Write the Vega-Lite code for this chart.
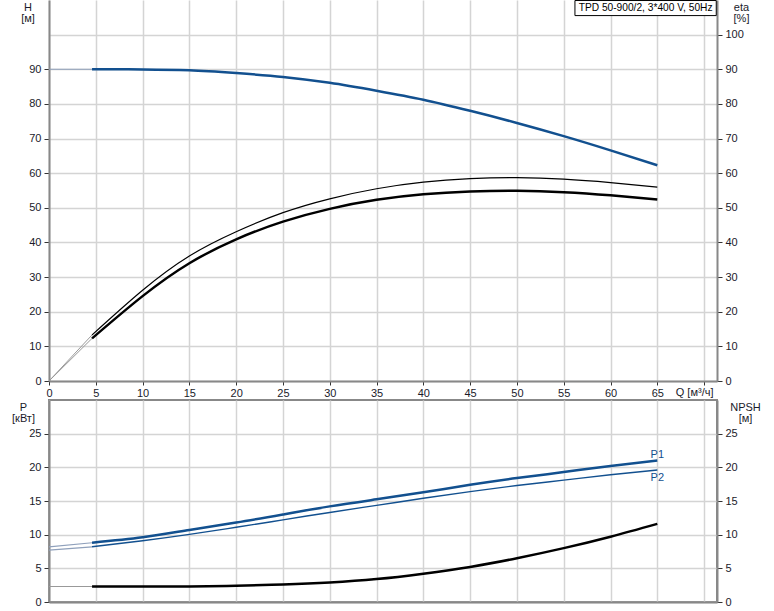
{
  "$schema": "https://vega.github.io/schema/vega-lite/v6.json",
  "padding": {"left": 10, "top": 0, "right": 10, "bottom": 0},
  "background": "white",
  "config": {
    "view": {"stroke": null},
    "font": "Liberation Sans",
    "axis": {
      "labelFont": "Liberation Sans", "labelFontSize": 11, "labelColor": "#1a1a2a",
      "titleFont": "Liberation Sans", "titleFontSize": 11, "titleFontWeight": "normal", "titleColor": "#1a1a2a",
      "domainColor": "#888888", "domainWidth": 2, "tickColor": "#333333", "tickSize": 5, "labelPadding": 3,
      "gridColor": "#d4d4d4", "gridWidth": 1.5
    }
  },
  "datasets": {
    "top": [
      {"s": "H0", "Q": 0, "v": 90}, {"s": "H0", "Q": 4.6, "v": 90},
      {"s": "H", "Q": 4.6, "v": 90}, {"s": "H", "Q": 10, "v": 89.95}, {"s": "H", "Q": 15, "v": 89.7}, {"s": "H", "Q": 20, "v": 88.9},
      {"s": "H", "Q": 25, "v": 87.8}, {"s": "H", "Q": 30, "v": 86.1}, {"s": "H", "Q": 35, "v": 83.8}, {"s": "H", "Q": 40, "v": 81.2},
      {"s": "H", "Q": 45, "v": 78.0}, {"s": "H", "Q": 50, "v": 74.5}, {"s": "H", "Q": 55, "v": 70.7}, {"s": "H", "Q": 60, "v": 66.6},
      {"s": "H", "Q": 65, "v": 62.3},
      {"s": "Eu0", "Q": 0, "v": 0}, {"s": "Eu0", "Q": 4.6, "v": 13.3},
      {"s": "Eu", "Q": 4.6, "v": 13.3}, {"s": "Eu", "Q": 10, "v": 26.2}, {"s": "Eu", "Q": 15, "v": 36.1},
      {"s": "Eu", "Q": 20, "v": 43.1}, {"s": "Eu", "Q": 25, "v": 48.6}, {"s": "Eu", "Q": 30, "v": 52.6}, {"s": "Eu", "Q": 35, "v": 55.5},
      {"s": "Eu", "Q": 40, "v": 57.4}, {"s": "Eu", "Q": 45, "v": 58.4}, {"s": "Eu", "Q": 50, "v": 58.7}, {"s": "Eu", "Q": 55, "v": 58.3},
      {"s": "Eu", "Q": 60, "v": 57.3}, {"s": "Eu", "Q": 65, "v": 56.0},
      {"s": "El0", "Q": 0, "v": 0}, {"s": "El0", "Q": 4.6, "v": 12.3},
      {"s": "El", "Q": 4.6, "v": 12.3}, {"s": "El", "Q": 10, "v": 24.5}, {"s": "El", "Q": 15, "v": 34.0},
      {"s": "El", "Q": 20, "v": 40.9}, {"s": "El", "Q": 25, "v": 46.0}, {"s": "El", "Q": 30, "v": 49.7}, {"s": "El", "Q": 35, "v": 52.3},
      {"s": "El", "Q": 40, "v": 53.9}, {"s": "El", "Q": 45, "v": 54.7}, {"s": "El", "Q": 50, "v": 54.9}, {"s": "El", "Q": 55, "v": 54.5},
      {"s": "El", "Q": 60, "v": 53.6}, {"s": "El", "Q": 65, "v": 52.4}
    ],
    "bottom": [
      {"s": "P1s", "Q": 0, "v": 8.2}, {"s": "P1s", "Q": 4.6, "v": 8.8},
      {"s": "P1", "Q": 4.6, "v": 8.8}, {"s": "P1", "Q": 10, "v": 9.6}, {"s": "P1", "Q": 15, "v": 10.7}, {"s": "P1", "Q": 20, "v": 11.8},
      {"s": "P1", "Q": 25, "v": 13.0}, {"s": "P1", "Q": 30, "v": 14.2}, {"s": "P1", "Q": 35, "v": 15.25}, {"s": "P1", "Q": 40, "v": 16.3},
      {"s": "P1", "Q": 45, "v": 17.4}, {"s": "P1", "Q": 50, "v": 18.4}, {"s": "P1", "Q": 55, "v": 19.3}, {"s": "P1", "Q": 60, "v": 20.2},
      {"s": "P1", "Q": 65, "v": 21.0},
      {"s": "P2s", "Q": 0, "v": 7.7}, {"s": "P2s", "Q": 4.6, "v": 8.2},
      {"s": "P2", "Q": 4.6, "v": 8.2}, {"s": "P2", "Q": 10, "v": 9.1}, {"s": "P2", "Q": 15, "v": 10.05}, {"s": "P2", "Q": 20, "v": 11.1},
      {"s": "P2", "Q": 25, "v": 12.2}, {"s": "P2", "Q": 30, "v": 13.3}, {"s": "P2", "Q": 35, "v": 14.35}, {"s": "P2", "Q": 40, "v": 15.4},
      {"s": "P2", "Q": 45, "v": 16.4}, {"s": "P2", "Q": 50, "v": 17.3}, {"s": "P2", "Q": 55, "v": 18.1}, {"s": "P2", "Q": 60, "v": 18.9},
      {"s": "P2", "Q": 65, "v": 19.6},
      {"s": "Ns", "Q": 0, "v": 2.3}, {"s": "Ns", "Q": 4.6, "v": 2.3},
      {"s": "N", "Q": 4.6, "v": 2.3}, {"s": "N", "Q": 10, "v": 2.3}, {"s": "N", "Q": 15, "v": 2.3}, {"s": "N", "Q": 20, "v": 2.4},
      {"s": "N", "Q": 25, "v": 2.6}, {"s": "N", "Q": 30, "v": 2.9}, {"s": "N", "Q": 35, "v": 3.4}, {"s": "N", "Q": 40, "v": 4.2},
      {"s": "N", "Q": 45, "v": 5.2}, {"s": "N", "Q": 50, "v": 6.5}, {"s": "N", "Q": 55, "v": 8.0}, {"s": "N", "Q": 60, "v": 9.7},
      {"s": "N", "Q": 65, "v": 11.6}
    ]
  },
  "bounds": "flush",
  "spacing": 19,
  "vconcat": [
    {
      "width": 668,
      "height": 381,
      "data": {"name": "top"},
      "encoding": {
        "x": {
          "field": "Q", "type": "quantitative",
          "scale": {"domain": [0, 71.38], "nice": false, "zero": false},
          "axis": {
            "values": [0, 5, 10, 15, 20, 25, 30, 35, 40, 45, 50, 55, 60, 65, 70],
            "labelExpr": "datum.value == 70 ? '' : datum.label",
            "grid": true, "tickSize": 4, "labelPadding": 2, "labelFlush": false, "labelOverlap": false,
            "title": "Q [м³/ч]", "titleX": 664, "titleY": 14, "titleAlign": "right", "titleBaseline": "alphabetic", "titleAnchor": null
          }
        }
      },
      "layer": [
        {
          "encoding": {
            "y": {
              "field": "v", "type": "quantitative",
              "scale": {"domain": [0, 110], "nice": false, "zero": false},
              "axis": {
                "values": [0, 10, 20, 30, 40, 50, 60, 70, 80, 90], "grid": false,
                "title": ["H", "[м]"], "titleAngle": 0, "titleAlign": "center", "titleBaseline": "top",
                "titleX": -21.5, "titleY": 1, "titleLineHeight": 11
              }
            }
          },
          "layer": [
            {"transform": [{"filter": "datum.s == 'H0'"}], "mark": {"type": "line", "color": "#8fa0bb", "strokeWidth": 1}},
            {"transform": [{"filter": "datum.s == 'H'"}], "mark": {"type": "line", "color": "#12508f", "strokeWidth": 2.5, "interpolate": "monotone"}},
            {
              "transform": [{"filter": "datum.s == 'H' && datum.Q == 65"}],
              "mark": {"type": "rect", "fill": "white", "stroke": "#000000", "strokeWidth": 1},
              "encoding": {
                "x": {"datum": 56.2, "type": "quantitative"}, "x2": {"datum": 71.3},
                "y": {"datum": 109.85, "type": "quantitative"}, "y2": {"datum": 105.5}
              }
            },
            {
              "transform": [{"filter": "datum.s == 'H' && datum.Q == 65"}],
              "mark": {"type": "text", "fontSize": 10.2, "font": "Liberation Sans", "align": "center", "baseline": "middle", "color": "#000000"},
              "encoding": {
                "x": {"datum": 63.75, "type": "quantitative"},
                "y": {"datum": 107.6, "type": "quantitative"},
                "text": {"value": "TPD 50-900/2, 3*400 V, 50Hz"}
              }
            }
          ]
        },
        {
          "encoding": {
            "y": {
              "field": "v", "type": "quantitative",
              "scale": {"domain": [0, 110], "nice": false, "zero": false},
              "axis": {
                "orient": "right",
                "values": [0, 10, 20, 30, 40, 50, 60, 70, 80, 90, 100], "grid": true,
                "title": ["eta", "[%]"], "titleAngle": 0, "titleAlign": "center", "titleBaseline": "top",
                "titleX": 24, "titleY": 1, "titleLineHeight": 11
              }
            }
          },
          "layer": [
            {"transform": [{"filter": "datum.s == 'Eu0' || datum.s == 'El0'"}], "mark": {"type": "line", "color": "#999999", "strokeWidth": 1}, "encoding": {"detail": {"field": "s"}}},
            {"transform": [{"filter": "datum.s == 'Eu'"}], "mark": {"type": "line", "color": "#000000", "strokeWidth": 1.2, "interpolate": "natural"}},
            {"transform": [{"filter": "datum.s == 'El'"}], "mark": {"type": "line", "color": "#000000", "strokeWidth": 2.5, "interpolate": "natural"}}
          ]
        }
      ],
      "resolve": {"scale": {"y": "independent"}}
    },
    {
      "width": 668,
      "height": 202,
      "view": {"stroke": "#888888", "strokeWidth": 2},
      "data": {"name": "bottom"},
      "encoding": {
        "x": {
          "field": "Q", "type": "quantitative",
          "scale": {"domain": [0, 71.38], "nice": false, "zero": false},
          "axis": {
            "values": [0, 5, 10, 15, 20, 25, 30, 35, 40, 45, 50, 55, 60, 65, 70],
            "grid": true, "labels": false, "ticks": false, "title": null
          }
        }
      },
      "layer": [
        {
          "encoding": {
            "y": {
              "field": "v", "type": "quantitative",
              "scale": {"domain": [0, 30], "nice": false, "zero": false},
              "axis": {
                "values": [0, 5, 10, 15, 20, 25], "grid": false,
                "title": ["P", "[кВт]"], "titleAngle": 0, "titleAlign": "center", "titleBaseline": "top",
                "titleX": -26, "titleY": 1, "titleLineHeight": 11
              }
            }
          },
          "layer": [
            {"transform": [{"filter": "datum.s == 'P1s' || datum.s == 'P2s'"}], "mark": {"type": "line", "color": "#8fa0bb", "strokeWidth": 1.2}, "encoding": {"detail": {"field": "s"}}},
            {"transform": [{"filter": "datum.s == 'P1'"}], "mark": {"type": "line", "color": "#12508f", "strokeWidth": 2.5, "interpolate": "natural"}},
            {"transform": [{"filter": "datum.s == 'P2'"}], "mark": {"type": "line", "color": "#12508f", "strokeWidth": 1.4, "interpolate": "natural"}},
            {"transform": [{"filter": "datum.s == 'P1' && datum.Q == 65"}], "mark": {"type": "text", "fontSize": 11, "font": "Liberation Sans", "color": "#12508f", "align": "center", "baseline": "middle", "dy": -6}, "encoding": {"text": {"value": "P1"}}},
            {"transform": [{"filter": "datum.s == 'P2' && datum.Q == 65"}], "mark": {"type": "text", "fontSize": 11, "font": "Liberation Sans", "color": "#12508f", "align": "center", "baseline": "middle", "dy": 8}, "encoding": {"text": {"value": "P2"}}}
          ]
        },
        {
          "encoding": {
            "y": {
              "field": "v", "type": "quantitative",
              "scale": {"domain": [0, 30], "nice": false, "zero": false},
              "axis": {
                "orient": "right",
                "values": [0, 5, 10, 15, 20, 25], "grid": true,
                "title": ["NPSH", "[м]"], "titleAngle": 0, "titleAlign": "center", "titleBaseline": "top",
                "titleX": 28, "titleY": 1, "titleLineHeight": 11
              }
            }
          },
          "layer": [
            {"transform": [{"filter": "datum.s == 'Ns'"}], "mark": {"type": "line", "color": "#999999", "strokeWidth": 1.2}},
            {"transform": [{"filter": "datum.s == 'N'"}], "mark": {"type": "line", "color": "#000000", "strokeWidth": 2.5, "interpolate": "natural"}}
          ]
        }
      ],
      "resolve": {"scale": {"y": "independent"}}
    }
  ]
}
